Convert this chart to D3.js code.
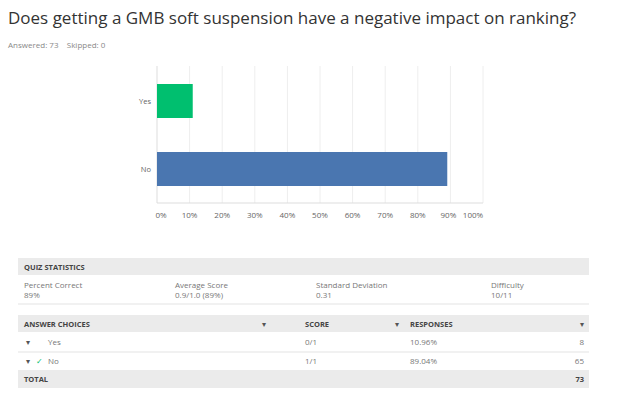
<!DOCTYPE html><html><head><meta charset="utf-8"><script src="https://cdn.jsdelivr.net/npm/d3@7"></script>
<style>body{margin:0;background:#fff}text{font-family:"Open Sans",sans-serif}</style></head><body>
<svg id="c" width="619" height="413"></svg>
<script>
const categories=["Yes","No"];
const values=[10.96,89.04];
const counts=[8,65];
const scores=["0/1","1/1"];
const ticks=[0,10,20,30,40,50,60,70,80,90,100];
const colors=["#00bf6f","#4a76b0"];
const svg=d3.select("#c");
svg.append("text").attr("x",8).attr("y",24).attr("font-size",17).attr("fill","#333").text("Does getting a GMB soft suspension have a negative impact on ranking?");
svg.append("text").attr("x",8).attr("y",48).attr("font-size",8).attr("fill","#888").attr("xml:space","preserve").text("Answered: 73    Skipped: 0");
const x=d3.scaleLinear().domain([0,100]).range([157,483]);
const yb=d3.scaleBand().domain(categories).range([50,220]).padding(0.5);
svg.append("g").selectAll("line").data(ticks.slice(1)).join("line").attr("x1",d=>x(d)).attr("x2",d=>x(d)).attr("y1",66).attr("y2",203).attr("stroke","#eee");
svg.append("line").attr("x1",157).attr("x2",157).attr("y1",66).attr("y2",203).attr("stroke","#ddd");
svg.append("line").attr("x1",157).attr("x2",483).attr("y1",203).attr("y2",203).attr("stroke","#ddd");
svg.selectAll("rect.b").data(categories).join("rect").attr("x",x(0)).attr("y",d=>yb(d)).attr("height",yb.bandwidth()).attr("width",(d,i)=>x(values[i])-x(0)).attr("fill",(d,i)=>colors[i]);
svg.selectAll("text.c").data(categories).join("text").attr("x",151).attr("y",d=>yb(d)+yb.bandwidth()/2+3).attr("text-anchor","end").attr("font-size",7.5).attr("fill","#666").text(d=>d);
svg.selectAll("text.t").data(ticks).join("text").attr("x",d=>x(d)+(d==0?4:d==90?-2:d==100?-10:0)).attr("y",218).attr("text-anchor","middle").attr("font-size",8).attr("fill","#666").text(d=>d+"%");
const L=18,R=589,fs=8;
function band(y,h){svg.append("rect").attr("x",L).attr("y",y).attr("width",R-L).attr("height",h).attr("fill","#ebebeb");}
function t(xx,yy,s,o={}){svg.append("text").attr("x",xx).attr("y",yy).attr("font-size",o.fs||fs).attr("fill",o.c||"#777").attr("font-weight",o.b?"bold":null).attr("text-anchor",o.a||"start").text(s);}
function hl(yy){svg.append("line").attr("x1",L).attr("x2",R).attr("y1",yy).attr("y2",yy).attr("stroke","#e3e3e3");}
band(258,17);t(24,269.5,"QUIZ STATISTICS",{b:1,c:"#444",fs:7.5});
const stats=[["Percent Correct","89%"],["Average Score","0.9/1.0 (89%)"],["Standard Deviation","0.31"],["Difficulty","10/11"]];
const sx=[24,175,316,491];
stats.forEach((s,i)=>{t(sx[i],288,s[0]);t(sx[i],298,s[1]);});
hl(304);
band(315,17);
t(24,326.5,"ANSWER CHOICES",{b:1,c:"#444",fs:7.5});t(305,326.5,"SCORE",{b:1,c:"#444",fs:7.5});t(410,326.5,"RESPONSES",{b:1,c:"#444",fs:7.5});
[264,397,582].forEach(xx=>t(xx,326.5,"▾",{c:"#555",fs:8,a:"middle"}));
categories.forEach((c,i)=>{const yy=345+i*19;
t(26,yy,"▾",{c:"#555",fs:8});
if(i==1)t(36,yy,"✓",{c:"#00bf6f"});
t(48,yy,c);t(305,yy,scores[i]);t(410,yy,values[i].toFixed(2)+"%");t(584,yy,counts[i],{a:"end"});
hl(352+i*19);});
band(370,18);t(24,382,"TOTAL",{b:1,c:"#444",fs:7.5});t(584,382,d3.sum(counts),{b:1,c:"#444",fs:7.5,a:"end"});
</script></body></html>
